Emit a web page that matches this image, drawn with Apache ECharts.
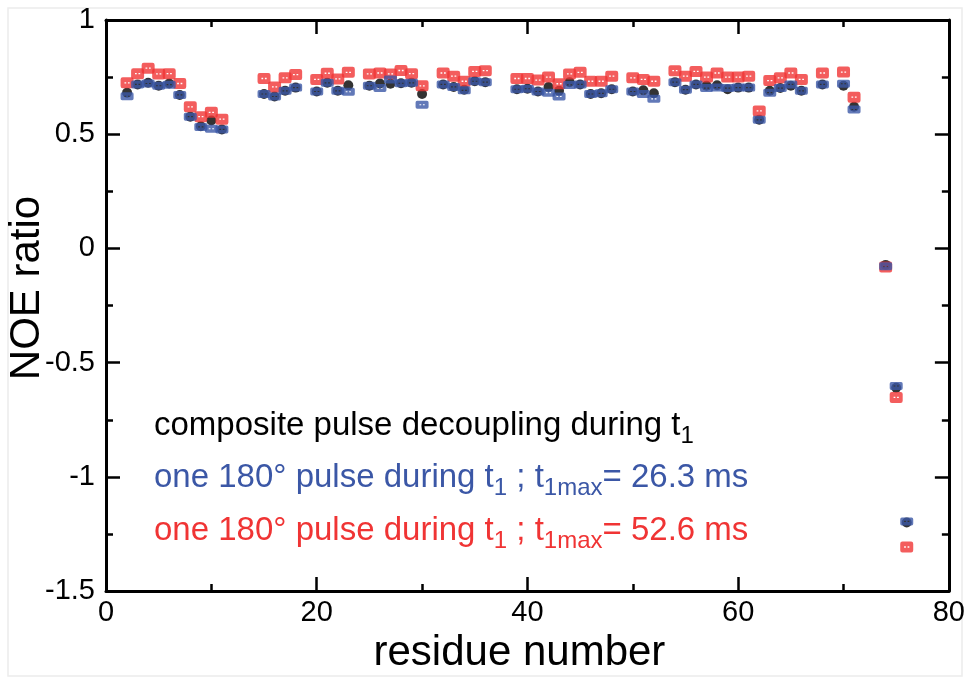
<!DOCTYPE html>
<html>
<head>
<meta charset="utf-8">
<script src="https://cdn.jsdelivr.net/npm/echarts@6/dist/echarts.min.js"></script>
<style>
  html, body { margin: 0; padding: 0; background: #fff; }
  #chart { width: 968px; height: 679px; }
</style>
</head>
<body>
<div id="chart"></div>
<script>
// residue numbers that have a measured NOE
const residues = [2, 3, 4, 5, 6, 7, 8, 9, 10, 11, 15, 16, 17, 18, 20, 21, 22, 23, 25, 26,
  27, 28, 29, 30, 32, 33, 34, 35, 36, 39, 40, 41, 42, 43, 44, 45, 46, 47, 48, 50,
  51, 52, 54, 55, 56, 57, 58, 59, 60, 61, 62, 63, 64, 65, 66, 68, 70, 71, 74, 75, 76];

// composite pulse decoupling during t1 (black)
const noeComposite = [0.682, 0.718, 0.725, 0.712, 0.722, 0.672, 0.577, 0.535, 0.560, 0.521,
  0.676, 0.665, 0.690, 0.704, 0.687, 0.725, 0.690, 0.714, 0.712, 0.722,
  0.721, 0.723, 0.725, 0.676, 0.718, 0.707, 0.695, 0.732, 0.728, 0.697,
  0.699, 0.687, 0.707, 0.690, 0.728, 0.718, 0.676, 0.679, 0.697, 0.687,
  0.692, 0.679, 0.728, 0.695, 0.718, 0.712, 0.714, 0.697, 0.704, 0.704,
  0.563, 0.690, 0.702, 0.712, 0.690, 0.718, 0.712, 0.620, -0.072, -0.610, -1.200];

// one 180 pulse, t1max = 26.3 ms (blue)
const noe263 = [0.666, 0.718, 0.722, 0.712, 0.717, 0.672, 0.577, 0.532, 0.524, 0.521,
  0.676, 0.665, 0.690, 0.704, 0.687, 0.725, 0.690, 0.686, 0.712, 0.702,
  0.740, 0.723, 0.725, 0.629, 0.718, 0.707, 0.692, 0.732, 0.728, 0.697,
  0.699, 0.687, 0.682, 0.665, 0.716, 0.718, 0.676, 0.679, 0.697, 0.687,
  0.676, 0.655, 0.728, 0.695, 0.718, 0.702, 0.704, 0.702, 0.704, 0.704,
  0.563, 0.682, 0.702, 0.718, 0.690, 0.718, 0.721, 0.608, -0.078, -0.602, -1.195];

// one 180 pulse, t1max = 52.6 ms (red)
const noe526 = [0.725, 0.765, 0.789, 0.764, 0.765, 0.722, 0.620, 0.577, 0.596, 0.566,
  0.744, 0.707, 0.747, 0.761, 0.740, 0.767, 0.742, 0.771, 0.764, 0.768,
  0.764, 0.779, 0.765, 0.712, 0.768, 0.754, 0.732, 0.775, 0.778, 0.744,
  0.744, 0.737, 0.750, 0.721, 0.764, 0.771, 0.732, 0.732, 0.754, 0.747,
  0.740, 0.732, 0.778, 0.754, 0.775, 0.750, 0.768, 0.750, 0.750, 0.754,
  0.602, 0.735, 0.747, 0.768, 0.740, 0.768, 0.772, 0.662, -0.081, -0.652, -1.307];

const xTicks = { min: 0, max: 80, interval: 20 };
const yTicks = { min: -1.5, max: 1, interval: 0.5 };

const BLACK = '#000000';
const BLUE = '#3b57a6';
const RED = '#f03434';

// marker shapes: rounded boxes with two small white dots (error-bar caps)
const redSymbol = 'path://M2,0 H10 Q12,0 12,2 V8 Q12,10 10,10 H2 Q0,10 0,8 V2 Q0,0 2,0 Z ' +
  'M3.6,4.4 V5.6 H5.2 V4.4 Z M6.8,4.4 V5.6 H8.4 V4.4 Z';
const blueSymbol = 'path://M1.5,0 H10.5 Q12,0 12,1.5 V5.5 Q12,7 10.5,7 H1.5 Q0,7 0,5.5 V1.5 Q0,0 1.5,0 Z ' +
  'M3.6,3 V4 H5.2 V3 Z M6.8,3 V4 H8.4 V3 Z';

const pairs = vals => residues.map((r, i) => [r, vals[i]]);

const chart = echarts.init(document.getElementById('chart'));

const axisLine = { show: true, onZero: false, lineStyle: { color: '#000', width: 3 } };
const axisTick = { show: true, inside: true, length: 14, lineStyle: { color: '#000', width: 2.5 } };
const minorTick = { show: true, splitNumber: 2, length: 7, lineStyle: { color: '#000', width: 2.5 } };

const sans = 'Liberation Sans, Arial, sans-serif';
const narrow = 'Liberation Sans Narrow, Arial Narrow, sans-serif';

function legendRich(color) {
  return {
    m: { fontSize: 33, lineHeight: 44, fill: color, fontFamily: sans, verticalAlign: 'middle' },
    s: { fontSize: 24, lineHeight: 22, fill: color, fontFamily: sans, verticalAlign: 'bottom' }
  };
}

chart.setOption({
  backgroundColor: '#fff',
  animation: false,
  grid: { left: 106, right: 17, top: 20, bottom: 65, containLabel: false },
  xAxis: [
    {
      type: 'value', min: xTicks.min, max: xTicks.max, interval: xTicks.interval,
      axisLine: axisLine, axisTick: axisTick, minorTick: minorTick,
      splitLine: { show: false },
      axisLabel: { margin: 7, fontFamily: narrow, fontSize: 29, color: '#000' },
      name: 'residue number', nameLocation: 'middle', nameGap: 32,
      nameTextStyle: { fontFamily: sans, fontSize: 42, color: '#000', padding: [0, 16, 0, 0] }
    },
    {
      type: 'value', position: 'top', min: xTicks.min, max: xTicks.max, interval: xTicks.interval,
      axisLine: axisLine, axisTick: axisTick, minorTick: minorTick,
      splitLine: { show: false }, axisLabel: { show: false }
    }
  ],
  yAxis: [
    {
      type: 'value', min: yTicks.min, max: yTicks.max, interval: yTicks.interval,
      axisLine: axisLine, axisTick: axisTick, minorTick: minorTick,
      splitLine: { show: false },
      axisLabel: { margin: 11, fontFamily: sans, fontSize: 29, color: '#000' }
    },
    {
      type: 'value', position: 'right', min: yTicks.min, max: yTicks.max, interval: yTicks.interval,
      axisLine: axisLine, axisTick: axisTick, minorTick: minorTick,
      splitLine: { show: false }, axisLabel: { show: false }
    }
  ],
  series: [
    {
      name: 'composite pulse decoupling', type: 'scatter', data: pairs(noeComposite),
      symbol: 'circle', symbolSize: 10, itemStyle: { color: BLACK }
    },
    {
      name: 't1max 52.6 ms', type: 'scatter', data: pairs(noe526),
      symbol: redSymbol, symbolSize: [13, 11], itemStyle: { color: RED }
    },
    {
      name: 't1max 26.3 ms', type: 'scatter', data: pairs(noe263),
      symbol: blueSymbol, symbolSize: [13, 8], itemStyle: { color: BLUE }
    }
  ],
  graphic: [
    {
      type: 'rect', silent: true, z: -1,
      shape: { x: 8, y: 8, width: 954, height: 668 },
      style: { fill: 'none', stroke: '#ececec', lineWidth: 1.5 }
    },
    {
      type: 'text', x: 27, y: 288, rotation: Math.PI / 2,
      style: {
        text: 'NOE ratio', fontFamily: sans, fontSize: 42, fill: '#000',
        align: 'center', verticalAlign: 'middle'
      }
    },
    {
      type: 'text', x: 154, y: 426,
      style: {
        text: '{m|composite pulse decoupling during t}{s|1}',
        rich: legendRich(BLACK), verticalAlign: 'middle'
      }
    },
    {
      type: 'text', x: 154, y: 478,
      style: {
        text: '{m|one 180° pulse during t}{s|1}{m| ; t}{s|1max}{m|= 26.3 ms}',
        rich: legendRich(BLUE), verticalAlign: 'middle'
      }
    },
    {
      type: 'text', x: 154, y: 531,
      style: {
        text: '{m|one 180° pulse during t}{s|1}{m| ; t}{s|1max}{m|= 52.6 ms}',
        rich: legendRich(RED), verticalAlign: 'middle'
      }
    }
  ]
});
</script>
</body>
</html>
